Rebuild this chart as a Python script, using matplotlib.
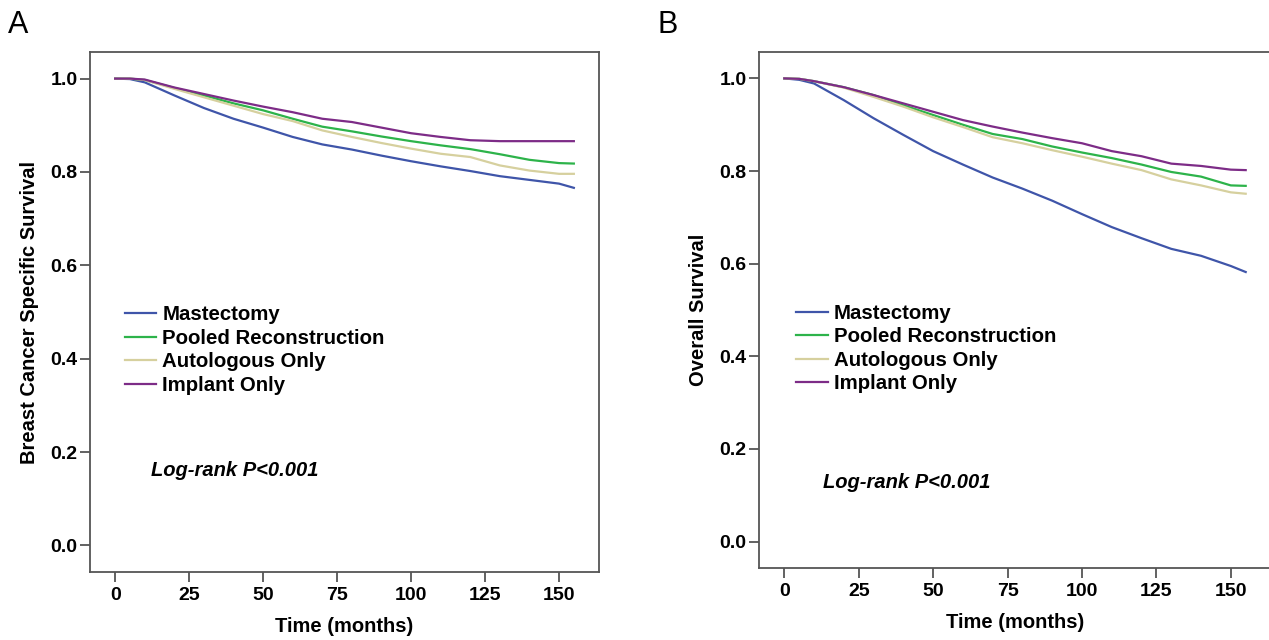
import matplotlib
matplotlib.use("Agg")
import matplotlib.pyplot as plt

plt.rcParams['font.family'] = ['Liberation Sans', 'DejaVu Sans']

months = [0, 5, 10, 20, 30, 40, 50, 60, 70, 80, 90, 100, 110, 120, 130, 140, 150, 155]
series_names = ["Mastectomy", "Pooled Reconstruction", "Autologous Only", "Implant Only"]

bcss_mastectomy = [1.0, 0.999, 0.992, 0.964, 0.937, 0.914, 0.895, 0.875, 0.859, 0.848, 0.835, 0.823, 0.812, 0.802, 0.791, 0.783, 0.775, 0.766]
bcss_pooled     = [1.0, 1.0, 0.997, 0.980, 0.964, 0.947, 0.932, 0.914, 0.897, 0.887, 0.876, 0.866, 0.857, 0.849, 0.838, 0.826, 0.819, 0.818]
bcss_autologous = [1.0, 1.0, 0.997, 0.978, 0.960, 0.942, 0.924, 0.909, 0.889, 0.875, 0.862, 0.850, 0.839, 0.832, 0.814, 0.803, 0.796, 0.796]
bcss_implant    = [1.0, 1.0, 0.998, 0.981, 0.967, 0.953, 0.940, 0.928, 0.914, 0.907, 0.895, 0.883, 0.875, 0.868, 0.866, 0.866, 0.866, 0.866]

os_mastectomy = [1.0, 0.997, 0.989, 0.953, 0.914, 0.878, 0.843, 0.814, 0.786, 0.762, 0.736, 0.707, 0.679, 0.655, 0.632, 0.617, 0.595, 0.582]
os_pooled     = [1.0, 0.999, 0.994, 0.981, 0.964, 0.942, 0.921, 0.900, 0.880, 0.869, 0.853, 0.840, 0.828, 0.814, 0.798, 0.788, 0.769, 0.768]
os_autologous = [1.0, 0.999, 0.994, 0.980, 0.960, 0.939, 0.916, 0.895, 0.873, 0.860, 0.845, 0.831, 0.816, 0.802, 0.782, 0.769, 0.754, 0.751]
os_implant    = [1.0, 0.999, 0.994, 0.981, 0.964, 0.946, 0.928, 0.910, 0.896, 0.883, 0.871, 0.860, 0.843, 0.832, 0.816, 0.811, 0.803, 0.802]

x_ticks = [0, 25, 50, 75, 100, 125, 150]
y_ticks = [0.0, 0.2, 0.4, 0.6, 0.8, 1.0]
colors = ['#3F55A9', '#2DB34A', '#D6D09E', '#7D2C87']

W, H = 1269, 640
fig = plt.figure(figsize=(W / 100, H / 100), dpi=100)

panels = [
    dict(rect=(90, 52, 599, 572), data=[bcss_mastectomy, bcss_pooled, bcss_autologous, bcss_implant],
         ylabel="Breast Cancer Specific Survival", letter="A", letter_x=8,
         leg=(0.068, 0.513), logrank=(0.12, 0.195)),
    dict(rect=(759, 52, 1271, 568), data=[os_mastectomy, os_pooled, os_autologous, os_implant],
         ylabel="Overall Survival", letter="B", letter_x=657,
         leg=(0.072, 0.512), logrank=(0.125, 0.165)),
]

spine_col = '#555555'
for p in panels:
    x0, y0, x1, y1 = p['rect']
    ax = fig.add_axes([x0 / W, 1 - y1 / H, (x1 - x0) / W, (y1 - y0) / H])
    for vals, name, c in zip(p['data'], series_names, colors):
        ax.plot(months, vals, color=c, lw=1.6, label=name)
    ax.set_xlim(-8.5, 163.5)
    ax.set_ylim(-0.057, 1.057)
    ax.set_xticks(x_ticks)
    ax.set_yticks(y_ticks)
    ax.set_yticklabels([f"{v:.1f}" for v in y_ticks])
    ax.tick_params(axis='both', which='major', direction='out', length=7, width=1.3,
                   color=spine_col, labelsize=14, pad=2, top=False, right=False)
    ax.tick_params(axis='x', pad=4)
    for lab in ax.get_xticklabels() + ax.get_yticklabels():
        lab.set_fontweight('bold')
    for s in ax.spines.values():
        s.set_color(spine_col)
        s.set_linewidth(1.3)
    ax.set_xlabel("Time (months)", fontsize=14.5, fontweight='bold', labelpad=9)
    ax.set_ylabel(p['ylabel'], fontsize=14.5, fontweight='bold', labelpad=8)
    leg = ax.legend(loc='upper left', bbox_to_anchor=p['leg'], frameon=False,
                    prop={'size': 14.7, 'weight': 'bold'}, handlelength=1.55,
                    handletextpad=0.3, labelspacing=0.22, borderaxespad=0, borderpad=0)
    ax.text(p['logrank'][0], p['logrank'][1], "Log-rank P<0.001", transform=ax.transAxes,
            fontsize=14.5, fontweight='bold', fontstyle='italic', va='center', ha='left')
    fig.text(p['letter_x'] / W, 1 - 10 / H, p['letter'], fontsize=22, va='top', ha='left')

fig.savefig("out.png", dpi=100)
